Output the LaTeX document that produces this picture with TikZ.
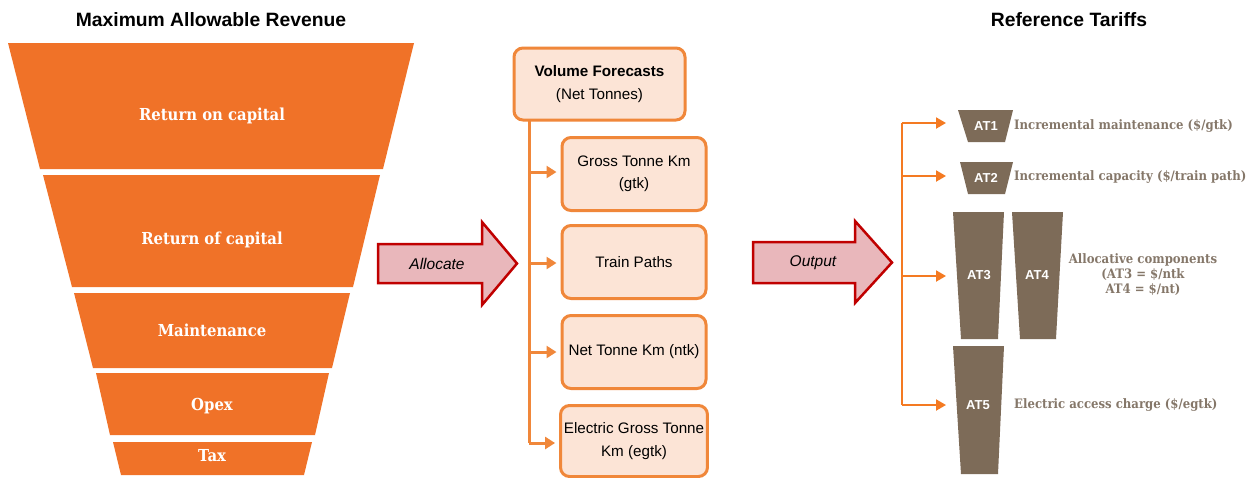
\documentclass[tikz,border=0pt]{standalone}
\usepackage{fontspec}
\setmainfont{Liberation Sans}
\newfontfamily\slab{DejaVu Serif Condensed}
\usetikzlibrary{arrows.meta}
\definecolor{funnel}{HTML}{F07228}
\definecolor{boxline}{HTML}{F0873A}
\definecolor{boxfill}{HTML}{FCE4D6}
\definecolor{brown}{HTML}{7D6B58}
\definecolor{tariff}{HTML}{857769}
\definecolor{bigred}{HTML}{C00000}
\definecolor{bigfill}{HTML}{E9B7BB}
\definecolor{branch}{HTML}{F47A22}
\begin{document}
\begin{tikzpicture}[x=1pt,y=-1pt,
  title/.style={font=\fontsize{19.3}{22}\selectfont\bfseries},
  seg/.style={fill=funnel,draw=none},
  seglabel/.style={text=white,font=\slab\bfseries\fontsize{16.5}{18}\selectfont},
  volbox/.style={draw=boxline,fill=boxfill,line width=3pt,rounded corners=9pt,align=center,font=\fontsize{15.2}{22.5}\selectfont},
  bigarrow/.style={draw=bigred,fill=bigfill,line width=2.5pt,line join=miter},
  arrlabel/.style={font=\itshape\fontsize{15.5}{18}\selectfont},
  feed/.style={draw=boxline,line width=3pt},
  feedarrow/.style={draw=boxline,line width=3pt,shorten >=4pt,-{Triangle[length=10pt,width=12pt]}},
  tline/.style={draw=branch,line width=2pt},
  tarrow/.style={draw=branch,line width=2pt,-{Triangle[length=10pt,width=11pt]}},
  tshape/.style={fill=brown,draw=none},
  atlabel/.style={text=white,font=\bfseries\fontsize{13}{15}\selectfont},
  tlabel/.style={text=tariff,font=\slab\bfseries\fontsize{13}{15}\selectfont,anchor=west,inner sep=0pt},
]
\useasboundingbox (0,0) rectangle (1256,477);
\fill[white] (0,0) rectangle (1256,477);

% titles
\node[title] (t1) at (211,20) {Maximum Allowable Revenue};
\node[title] (t2) at (1069,20) {Reference Tariffs};

% funnel
\path[seg] (8,43) -- (414,43) -- (383,169) -- (40,169) -- cycle;
\path[seg] (43,175) -- (380,175) -- (353,287) -- (72,287) -- cycle;
\path[seg] (74,293) -- (350,293) -- (332,368) -- (93,368) -- cycle;
\path[seg] (96,373) -- (329,373) -- (315,435) -- (110,435) -- cycle;
\path[seg] (113,442) -- (312,442) -- (304,475) -- (121,475) -- cycle;
\node[seglabel] (s1) at (212,116) {Return on capital};
\node[seglabel] (s2) at (212,240) {Return of capital};
\node[seglabel] (s3) at (212,330) {Maintenance};
\node[seglabel] (s4) at (212,406) {Opex};
\node[seglabel] (s5) at (212,456) {Tax};

% allocate arrow
\path[bigarrow] (378,244) -- (482,244) -- (482,222) -- (517,263.5) -- (482,305) -- (482,283) -- (378,283) -- cycle;
\node[arrlabel] (alloc) at (437,264) {Allocate};

% volume boxes
\node[volbox,minimum width=171pt,minimum height=72pt] (vf) at (599.5,84) {\textbf{Volume Forecasts}\\(Net Tonnes)};
\node[volbox,minimum width=144pt,minimum height=73pt] (gtk) at (634,174) {Gross Tonne Km\\(gtk)};
\node[volbox,minimum width=144pt,minimum height=73pt] (tp) at (634,262) {Train Paths};
\node[volbox,minimum width=144pt,minimum height=73pt] (ntk) at (634,352) {Net Tonne Km (ntk)};
\node[volbox,minimum width=144pt,minimum height=71pt] (egtk) at (634,441) {Electric Gross Tonne\\Km (egtk)};

\coordinate (vtop) at (529,119);
\coordinate (b1) at (529,172);
\coordinate (b2) at (529,263);
\coordinate (b3) at (529,352);
\coordinate (b4) at (529,443);
\path[feed] (vtop) -- (b4);
\draw[feedarrow] (b1) -- (gtk.west |- b1);
\draw[feedarrow] (b2) -- (tp.west |- b2);
\draw[feedarrow] (b3) -- (ntk.west |- b3);
\draw[feedarrow] (b4) -- (egtk.west |- b4);

% output arrow
\path[bigarrow] (753,242) -- (855,242) -- (855,221) -- (892,262.5) -- (855,303) -- (855,283) -- (753,283) -- cycle;
\node[arrlabel] (outp) at (813,263) {Output};

% tariff shapes
\path[tshape] (958,110) -- (1013,110) -- (1005,142) -- (968,142) -- cycle;
\path[tshape] (960,162) -- (1013,162) -- (1005,194) -- (968,194) -- cycle;
\path[tshape] (953,212) -- (1004,212) -- (998,339) -- (961,339) -- cycle;
\path[tshape] (1012,212) -- (1063,212) -- (1056,339) -- (1020,339) -- cycle;
\path[tshape] (953,346) -- (1004,346) -- (998,474) -- (961,474) -- cycle;
\node[atlabel] (at1) at (986,126) {AT1};
\node[atlabel] (at2) at (986,178) {AT2};
\node[atlabel] (at3) at (979,275) {AT3};
\node[atlabel] (at4) at (1037,275) {AT4};
\node[atlabel] (at5) at (978,405) {AT5};

\node[tlabel] (l1) at (1014,125.5) {Incremental maintenance (\$/gtk)};
\node[tlabel] (l2) at (1014,177) {Incremental capacity (\$/train path)};
\node[tlabel,anchor=center,align=center,font=\slab\bfseries\fontsize{13}{15}\selectfont] (l3) at (1143,275) {Allocative components\\(AT3 = \$/ntk\\AT4 = \$/nt)};
\node[tlabel] (l5) at (1014,405) {Electric access charge (\$/egtk)};

% tariff connectors
\coordinate (r1) at (902,123);
\coordinate (r2) at (902,176);
\coordinate (r3) at (902,276);
\coordinate (r5) at (902,405);
\coordinate (e1) at (946,123);
\coordinate (e2) at (946,176);
\coordinate (e3) at (946,276);
\coordinate (e5) at (946,405);
\path[tline] (r1) -- (r5);
\draw[tarrow] (r1) -- (e1);
\draw[tarrow] (r2) -- (e2);
\draw[tarrow] (r3) -- (e3);
\draw[tarrow] (r5) -- (e5);
\end{tikzpicture}
\end{document}
